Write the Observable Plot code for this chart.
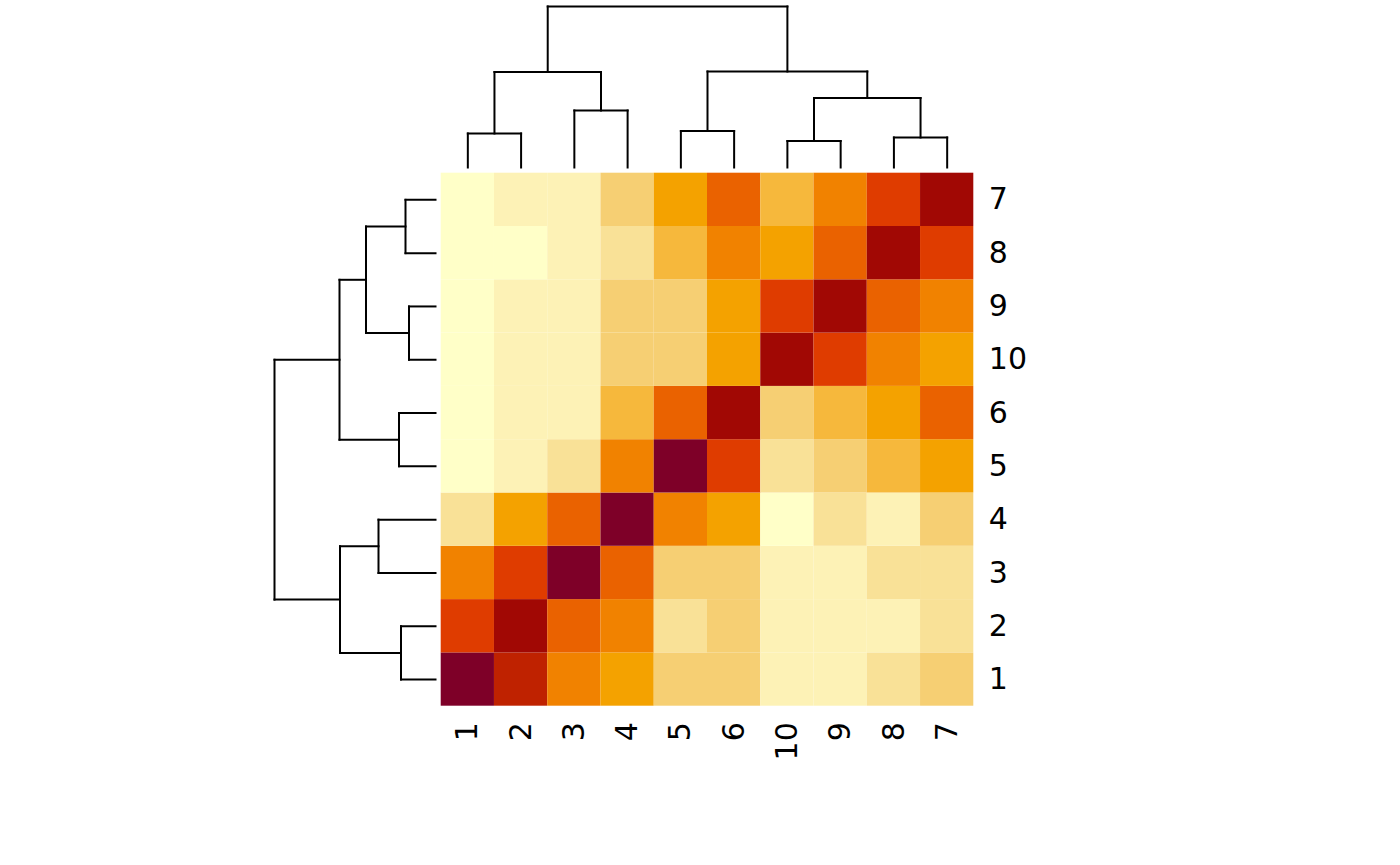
<!DOCTYPE html>
<html>
<head>
<meta charset="utf-8">
<script src="https://cdn.jsdelivr.net/npm/d3@7"></script>
<script src="https://cdn.jsdelivr.net/npm/@observablehq/plot@0.6"></script>
<style>
  html, body { margin: 0; padding: 0; background: #ffffff; }
  #chart { position: relative; width: 1400px; height: 865px; background: #ffffff; }
  #chart > svg { position: absolute; left: 0; top: 0; background: transparent; }
</style>
</head>
<body>
<div id="chart"></div>
<script>
// Leaf order (left to right for columns, bottom to top for rows)
const colLabels = ["1", "2", "3", "4", "5", "6", "10", "9", "8", "7"];
const rowLabels = ["1", "2", "3", "4", "5", "6", "10", "9", "8", "7"];

// Colour bins (1 = lowest, 12 = highest)
const palette = ["#ffffc8", "#fdf2b6", "#f9e197", "#f6cf73", "#f6b83c", "#f4a200",
                 "#f18200", "#ea6200", "#df3c00", "#bf2200", "#a10804", "#7e0028"];

// Cell bins per row, listed in column order 1,2,3,4,5,6,10,9,8,7
const row7  = [1, 2, 2, 4, 6, 8, 5, 7, 9, 11];
const row8  = [1, 1, 2, 3, 5, 7, 6, 8, 11, 9];
const row9  = [1, 2, 2, 4, 4, 6, 9, 11, 8, 7];
const row10 = [1, 2, 2, 4, 4, 6, 11, 9, 7, 6];
const row6  = [1, 2, 2, 5, 8, 11, 4, 5, 6, 8];
const row5  = [1, 2, 3, 7, 12, 9, 3, 4, 5, 6];
const row4  = [3, 6, 8, 12, 7, 6, 1, 3, 2, 4];
const row3  = [7, 9, 12, 8, 4, 4, 2, 2, 3, 3];
const row2  = [9, 11, 8, 7, 3, 4, 2, 2, 2, 3];
const row1  = [12, 10, 7, 6, 4, 4, 2, 2, 3, 4];

// Dendrogram merges: [id, left child, right child, height]
const colMerges = [
  ["m1", "1", "2", 0.68],
  ["m2", "3", "4", 1.14],
  ["m3", "m1", "m2", 1.91],
  ["m4", "5", "6", 0.73],
  ["m5", "10", "9", 0.53],
  ["m6", "8", "7", 0.60],
  ["m7", "m5", "m6", 1.39],
  ["m8", "m4", "m7", 1.92],
  ["m9", "m3", "m8", 3.22]
];
const rowMerges = [
  ["r1", "1", "2", 0.69],
  ["r2", "3", "4", 1.14],
  ["r3", "r1", "r2", 1.91],
  ["r4", "5", "6", 0.73],
  ["r5", "10", "9", 0.53],
  ["r6", "8", "7", 0.60],
  ["r7", "r5", "r6", 1.39],
  ["r8", "r4", "r7", 1.92],
  ["r9", "r3", "r8", 3.22]
];

// ---- build tables ----
const rowsByLabel = {"7": row7, "8": row8, "9": row9, "10": row10, "6": row6,
                     "5": row5, "4": row4, "3": row3, "2": row2, "1": row1};
const cells = [];
for (const r of rowLabels) {
  rowsByLabel[r].forEach((v, j) => cells.push({row: r, col: colLabels[j], v}));
}

function dendroSegments(merges, order) {
  const pos = {}, h = {};
  order.forEach((l, i) => { pos[l] = i; h[l] = 0; });
  const segs = [];
  for (const [id, a, b, ht] of merges) {
    pos[id] = (pos[a] + pos[b]) / 2;
    h[id] = ht;
    segs.push({p1: pos[a], h1: ht, p2: pos[b], h2: ht});
    segs.push({p1: pos[a], h1: h[a], p2: pos[a], h2: ht});
    segs.push({p1: pos[b], h1: h[b], p2: pos[b], h2: ht});
  }
  return segs;
}
const colSegs = dendroSegments(colMerges, colLabels);
const rowSegs = dendroSegments(rowMerges, rowLabels);

const W = 1400, H = 865;
const hmLeft = 440.7, hmRight = 973.3, hmTop = 172.7, hmBottom = 705.7;
const font = "DejaVu Sans, sans-serif";

// ---- heatmap ----
const heat = Plot.plot({
  width: W, height: H,
  marginLeft: hmLeft, marginRight: W - hmRight,
  marginTop: hmTop, marginBottom: H - hmBottom,
  style: {fontSize: "30px", fontFamily: font, color: "#000", background: "transparent"},
  x: {type: "band", domain: colLabels, padding: 0, round: false, label: null, axis: "bottom",
      tickSize: 0, tickPadding: 16, tickRotate: -90},
  y: {type: "band", domain: rowLabels.slice().reverse(), padding: 0, round: false, label: null, axis: "right",
      tickSize: 0, tickPadding: 15},
  color: {type: "ordinal", domain: d3.range(1, 13), range: palette},
  marks: [
    Plot.cell(cells, {x: "col", y: "row", fill: "v", inset: 0})
  ]
});

// ---- column dendrogram (top) ----
const topDendro = Plot.plot({
  width: W, height: H,
  marginLeft: hmLeft, marginRight: W - hmRight,
  marginTop: 6, marginBottom: H - 167,
  style: {background: "transparent"},
  x: {domain: [-0.5, colLabels.length - 0.5], axis: null},
  y: {domain: [0, 3.22], axis: null},
  marks: [
    Plot.link(colSegs, {x1: "p1", y1: "h1", x2: "p2", y2: "h2", stroke: "#000", strokeWidth: 2, strokeLinecap: "square"})
  ]
});

// ---- row dendrogram (left) ----
const leftDendro = Plot.plot({
  width: W, height: H,
  marginLeft: 274, marginRight: W - 435,
  marginTop: hmTop, marginBottom: H - hmBottom,
  style: {background: "transparent"},
  x: {domain: [3.22, 0], axis: null},
  y: {domain: [-0.5, rowLabels.length - 0.5], axis: null},
  marks: [
    Plot.link(rowSegs, {y1: "p1", x1: "h1", y2: "p2", x2: "h2", stroke: "#000", strokeWidth: 2, strokeLinecap: "square"})
  ]
});

const chart = document.getElementById("chart");
chart.append(heat, topDendro, leftDendro);
</script>
</body>
</html>
